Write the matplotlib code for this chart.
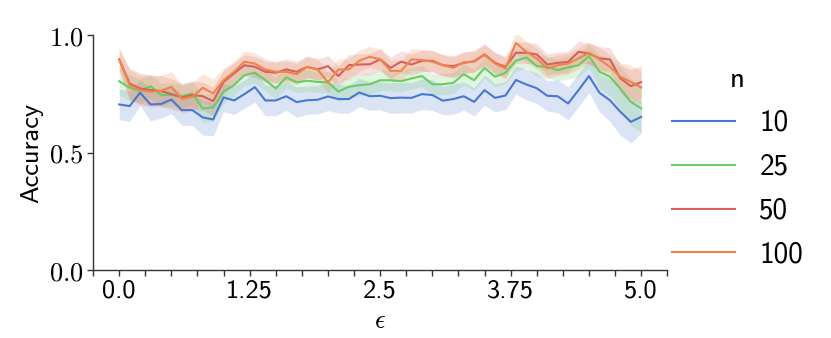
import numpy as np
import matplotlib.pyplot as plt
from matplotlib.ticker import MultipleLocator

plt.rcParams['mathtext.fontset'] = 'cm'
plt.rcParams['axes.unicode_minus'] = False

# epsilon grid (step 0.1)
eps = np.round(np.arange(51) * 0.1, 1)

# mean accuracy per n
acc_10 = [0.705, 0.698, 0.755, 0.705, 0.707, 0.726, 0.681, 0.681, 0.650, 0.641,
          0.735, 0.722, 0.749, 0.779, 0.722, 0.722, 0.740, 0.715, 0.723, 0.725,
          0.739, 0.728, 0.728, 0.756, 0.740, 0.742, 0.732, 0.734, 0.733, 0.749,
          0.745, 0.721, 0.728, 0.740, 0.716, 0.766, 0.733, 0.743, 0.809, 0.790,
          0.774, 0.742, 0.740, 0.709, 0.766, 0.826, 0.755, 0.723, 0.674, 0.631,
          0.652]
acc_25 = [0.804, 0.776, 0.763, 0.783, 0.745, 0.745, 0.740, 0.752, 0.688, 0.692,
          0.759, 0.787, 0.830, 0.840, 0.809, 0.773, 0.820, 0.799, 0.806, 0.801,
          0.799, 0.760, 0.780, 0.787, 0.791, 0.808, 0.808, 0.804, 0.816, 0.826,
          0.791, 0.791, 0.797, 0.834, 0.808, 0.861, 0.823, 0.840, 0.891, 0.905,
          0.868, 0.865, 0.851, 0.863, 0.872, 0.911, 0.844, 0.823, 0.773, 0.716,
          0.688]
acc_50 = [0.897, 0.794, 0.773, 0.766, 0.762, 0.749, 0.735, 0.745, 0.740, 0.719,
          0.801, 0.837, 0.872, 0.865, 0.844, 0.840, 0.854, 0.844, 0.865, 0.854,
          0.868, 0.826, 0.872, 0.875, 0.876, 0.897, 0.861, 0.887, 0.875, 0.891,
          0.891, 0.872, 0.868, 0.882, 0.889, 0.918, 0.882, 0.865, 0.925, 0.925,
          0.918, 0.875, 0.882, 0.886, 0.929, 0.922, 0.901, 0.897, 0.816, 0.783,
          0.800]
acc_100 = [0.897, 0.787, 0.766, 0.759, 0.763, 0.780, 0.728, 0.738, 0.776, 0.752,
           0.809, 0.844, 0.887, 0.879, 0.854, 0.844, 0.844, 0.834, 0.865, 0.854,
           0.799, 0.854, 0.854, 0.891, 0.908, 0.897, 0.848, 0.848, 0.897, 0.894,
           0.887, 0.872, 0.861, 0.884, 0.887, 0.915, 0.879, 0.858, 0.967, 0.929,
           0.901, 0.858, 0.872, 0.879, 0.901, 0.925, 0.897, 0.865, 0.823, 0.801,
           0.777]

# half width of the confidence band
ci_10 = [0.065, 0.065, 0.055, 0.070, 0.060, 0.060, 0.065, 0.065, 0.075, 0.070,
         0.060, 0.060, 0.060, 0.065, 0.065, 0.065, 0.060, 0.065, 0.060, 0.060,
         0.060, 0.060, 0.060, 0.060, 0.060, 0.060, 0.065, 0.065, 0.065, 0.065,
         0.065, 0.060, 0.065, 0.060, 0.060, 0.065, 0.060, 0.060, 0.060, 0.065,
         0.065, 0.065, 0.070, 0.070, 0.070, 0.070, 0.080, 0.090, 0.100, 0.090,
         0.070]
ci_25 = [0.060, 0.055, 0.050, 0.050, 0.050, 0.050, 0.050, 0.050, 0.060, 0.060,
         0.050, 0.045, 0.045, 0.045, 0.045, 0.045, 0.045, 0.045, 0.045, 0.045,
         0.045, 0.045, 0.045, 0.045, 0.045, 0.045, 0.045, 0.045, 0.045, 0.045,
         0.045, 0.045, 0.045, 0.045, 0.045, 0.045, 0.045, 0.045, 0.045, 0.045,
         0.045, 0.045, 0.045, 0.050, 0.050, 0.050, 0.070, 0.080, 0.090, 0.100,
         0.100]
ci_50 = [0.045, 0.065, 0.065, 0.065, 0.065, 0.065, 0.060, 0.060, 0.060, 0.060,
         0.050, 0.045, 0.045, 0.045, 0.045, 0.045, 0.045, 0.045, 0.045, 0.045,
         0.045, 0.045, 0.045, 0.045, 0.045, 0.045, 0.045, 0.045, 0.045, 0.045,
         0.045, 0.045, 0.045, 0.045, 0.045, 0.045, 0.045, 0.045, 0.045, 0.045,
         0.045, 0.045, 0.045, 0.045, 0.045, 0.045, 0.050, 0.050, 0.060, 0.070,
         0.070]
ci_100 = [0.045, 0.065, 0.065, 0.065, 0.065, 0.065, 0.060, 0.060, 0.060, 0.060,
          0.050, 0.045, 0.045, 0.045, 0.045, 0.045, 0.045, 0.045, 0.045, 0.045,
          0.045, 0.045, 0.045, 0.045, 0.045, 0.045, 0.045, 0.045, 0.045, 0.045,
          0.045, 0.045, 0.045, 0.045, 0.045, 0.045, 0.045, 0.045, 0.045, 0.045,
          0.045, 0.045, 0.045, 0.045, 0.045, 0.045, 0.050, 0.050, 0.060, 0.070,
          0.070]

sizes = ['10', '25', '50', '100']
colors = ['#4878d0', '#6acc64', '#d65f5f', '#ee854a']
means = [acc_10, acc_25, acc_50, acc_100]
cis = [ci_10, ci_25, ci_50, ci_100]

fs = 19
leg_fs = 21
sans = 'cmss10'
fig = plt.figure(figsize=(8.31, 3.38), dpi=100)
ax = fig.add_axes([0.112, 0.201, 0.691, 0.695])

for n, c, m, h in zip(sizes, colors, means, cis):
    m = np.array(m)
    h = np.array(h)
    ax.plot(eps, m, color=c, lw=1.5, label=n)
    ax.fill_between(eps, m - h, m + h, color=c, alpha=0.2, lw=0)

ax.set_xlim(-0.25, 5.25)
ax.set_ylim(0, 1)
ax.set_xticks([0, 1.25, 2.5, 3.75, 5.0])
ax.set_xticklabels(['0.0', '1.25', '2.5', '3.75', '5.0'],
                   fontsize=fs, family=sans)
ax.xaxis.set_minor_locator(MultipleLocator(0.25))
ax.set_yticks([0, 0.5, 1.0])
ax.set_yticklabels([r'$0.0$', r'$0.5$', r'$1.0$'], fontsize=fs)
ax.tick_params(which='both', length=4, width=1, color='#333333', pad=3)

for s in ['top', 'right']:
    ax.spines[s].set_visible(False)
for s in ['left', 'bottom']:
    ax.spines[s].set_color('#333333')
    ax.spines[s].set_linewidth(1)

ax.set_xlabel(r'$\epsilon$', fontsize=fs)
ax.set_ylabel('Accuracy', fontsize=fs, family=sans)

leg = fig.legend(loc='center left', bbox_to_anchor=(0.777, 0.505), frameon=False,
                 title='n', prop={'family': sans, 'size': leg_fs},
                 handlelength=2.15, handletextpad=0.85, labelspacing=0.58)
leg.get_title().set_fontfamily(sans)
leg.get_title().set_fontsize(leg_fs)

fig.savefig('out.png', dpi=100)
